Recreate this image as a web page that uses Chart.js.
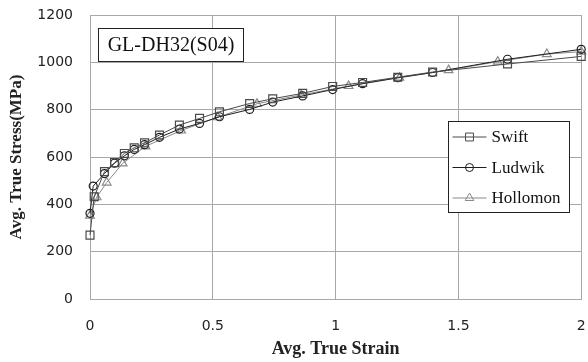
<!DOCTYPE html>
<html>
<head>
<meta charset="utf-8">
<script src="https://cdn.jsdelivr.net/npm/chart.js@4/dist/chart.umd.min.js"></script>
<style>
  html, body { margin: 0; padding: 0; background: #fff; }
  #wrap { width: 588px; height: 362px; position: relative; }
</style>
</head>
<body>
<div id="wrap"><canvas id="c" width="588" height="362"></canvas></div>
<script>
// Flow curve fits for GL-DH32 (S04): average true strain vs. average true stress
const swiftStrain = [0, 0.017, 0.059, 0.1, 0.14, 0.18, 0.222, 0.283, 0.364, 0.446, 0.527, 0.65, 0.744, 0.866, 0.988, 1.11, 1.253, 1.395, 1.70, 2.0];
const swiftStress = [270, 432, 538, 576, 615, 639, 660, 693, 735, 763, 791, 826, 846, 869, 898, 915, 937, 959, 993, 1025];

const ludwikStrain = [0, 0.013, 0.059, 0.1, 0.14, 0.18, 0.222, 0.283, 0.364, 0.446, 0.527, 0.65, 0.744, 0.866, 0.988, 1.11, 1.253, 1.395, 1.70, 2.0];
const ludwikStress = [362, 477, 530, 574, 605, 632, 652, 683, 718, 742, 770, 801, 832, 858, 885, 910, 935, 957, 1013, 1055];

const hollomonStrain = [0, 0.027, 0.068, 0.133, 0.226, 0.371, 0.52, 0.68, 0.86, 1.053, 1.26, 1.46, 1.66, 1.86, 2.0];
const hollomonStress = [352, 430, 492, 573, 645, 712, 768, 825, 862, 900, 935, 967, 1003, 1035, 1045];

const xTicks = [0, 0.5, 1, 1.5, 2];
const yTicks = [0, 200, 400, 600, 800, 1000, 1200];

const specimenLabel = 'GL-DH32(S04)';
const xTitle = 'Avg. True Strain';
const yTitle = 'Avg. True Stress(MPa)';

const toPoints = (xs, ys) => xs.map((x, i) => ({ x: x, y: ys[i] }));

const series = [
  { label: 'Swift',    xs: swiftStrain,    ys: swiftStress,    color: '#4a4a4a', style: 'rect',     radius: 5.6 },
  { label: 'Ludwik',   xs: ludwikStrain,   ys: ludwikStress,   color: '#1e1e1e', style: 'circle',   radius: 4 },
  { label: 'Hollomon', xs: hollomonStrain, ys: hollomonStress, color: '#8a8a8a', style: 'triangle', radius: 5 }
];

const serif = "'Liberation Serif', 'Times New Roman', serif";
const gridColor = '#a8a8a8';

// Specimen label box and the boxed legend inside the plot area
const overlayPlugin = {
  id: 'overlay',
  afterDraw(chart) {
    const ctx = chart.ctx;
    const a = chart.chartArea;
    ctx.save();

    // specimen label
    const bx = Math.round(a.left + 8) + 0.5, by = Math.round(a.top + 13) + 0.5;
    const bw = 145, bh = 33;
    ctx.fillStyle = '#fff';
    ctx.fillRect(bx, by, bw, bh);
    ctx.strokeStyle = '#222';
    ctx.lineWidth = 1;
    ctx.strokeRect(bx, by, bw, bh);
    ctx.fillStyle = '#111';
    ctx.font = '20px ' + serif;
    ctx.textAlign = 'center';
    ctx.textBaseline = 'middle';
    ctx.fillText(specimenLabel, bx + bw / 2, by + bh / 2 + 1);

    // legend
    const lx = Math.round(a.right - 133) + 0.5, ly = Math.round(a.top + 106) + 0.5;
    const lw = 121, lh = 91;
    ctx.fillStyle = '#fff';
    ctx.fillRect(lx, ly, lw, lh);
    ctx.strokeStyle = '#222';
    ctx.strokeRect(lx, ly, lw, lh);
    ctx.font = '17px ' + serif;
    ctx.textAlign = 'left';
    chart.data.datasets.forEach((ds, i) => {
      const cy = ly + 15.5 + i * 30.5;
      ctx.strokeStyle = ds.borderColor;
      ctx.lineWidth = 1;
      ctx.beginPath();
      ctx.moveTo(lx + 4, cy);
      ctx.lineTo(lx + 38, cy);
      ctx.stroke();
      ctx.fillStyle = 'rgba(0,0,0,0)';
      Chart.helpers.drawPoint(ctx, {
        pointStyle: ds.pointStyle,
        radius: ds.pointRadius,
        borderWidth: 1,
        rotation: 0
      }, lx + 21, cy);
      ctx.fillStyle = '#111';
      ctx.textBaseline = 'middle';
      ctx.fillText(ds.label, lx + 43, cy + 1);
    });
    ctx.restore();
  }
};

new Chart(document.getElementById('c'), {
  type: 'line',
  data: {
    datasets: series.map(s => ({
      label: s.label,
      data: toPoints(s.xs, s.ys),
      borderColor: s.color,
      backgroundColor: 'rgba(0,0,0,0)',
      borderWidth: 1,
      pointStyle: s.style,
      pointRadius: s.radius,
      pointBorderColor: s.color,
      pointBackgroundColor: 'rgba(0,0,0,0)',
      pointBorderWidth: 1.2,
      tension: 0,
      clip: 10
    }))
  },
  options: {
    responsive: false,
    animation: false,
    layout: { padding: { left: 0, right: 6, top: 15, bottom: 0 } },
    plugins: {
      legend: { display: false },
      tooltip: { enabled: false }
    },
    scales: {
      x: {
        type: 'linear',
        min: xTicks[0],
        max: xTicks[xTicks.length - 1],
        afterBuildTicks: sc => { sc.ticks = xTicks.map(v => ({ value: v })); },
        afterFit: sc => { sc.height = 63; sc.paddingLeft = 0; sc.paddingRight = 0; },
        grid: { color: gridColor, lineWidth: 1, drawTicks: false },
        border: { color: gridColor, width: 1 },
        ticks: {
          padding: 19,
          color: '#222',
          font: { family: "'DejaVu Sans', sans-serif", size: 14 },
          callback: v => String(v)
        },
        title: {
          display: true,
          text: xTitle,
          color: '#222',
          font: { family: serif, size: 18, weight: 'bold' },
          padding: { top: 0, bottom: 2 }
        }
      },
      y: {
        type: 'linear',
        min: yTicks[0],
        max: yTicks[yTicks.length - 1],
        afterBuildTicks: sc => { sc.ticks = yTicks.map(v => ({ value: v })); },
        afterFit: sc => { sc.width = 90; sc.paddingTop = 0; sc.paddingBottom = 0; },
        grid: { color: gridColor, lineWidth: 1, drawTicks: false },
        border: { color: gridColor, width: 1 },
        ticks: {
          padding: 17,
          color: '#222',
          font: { family: "'DejaVu Sans', sans-serif", size: 14 },
          callback: v => String(v)
        },
        title: {
          display: true,
          text: yTitle,
          color: '#222',
          font: { family: serif, size: 17, weight: 'bold' },
          padding: { top: 6, bottom: 0 }
        }
      }
    }
  },
  plugins: [overlayPlugin]
});
</script>
</body>
</html>
